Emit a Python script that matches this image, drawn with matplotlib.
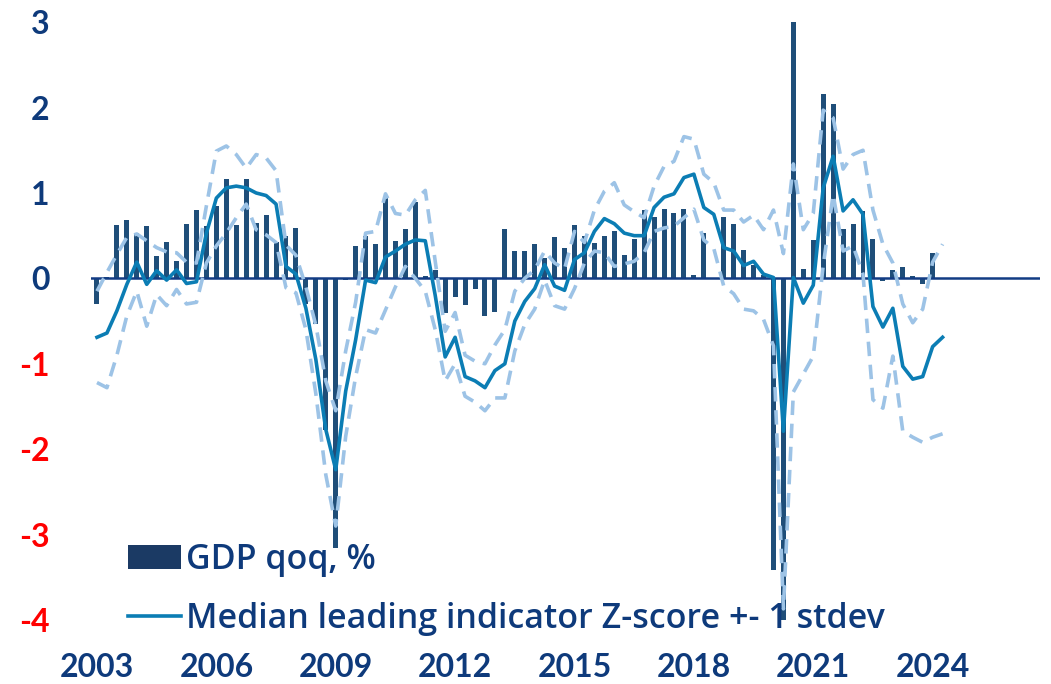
import numpy as np
import matplotlib
matplotlib.use("Agg")
import matplotlib.pyplot as plt
from matplotlib.patches import Patch
from matplotlib.lines import Line2D

# quarterly data, first quarter = 2003Q1
gdp = [-0.30, 0.02, 0.62, 0.68, 0.53, 0.61, 0.26, 0.42, 0.20, 0.64,
       0.80, 0.61, 0.85, 1.16, 0.62, 1.16, 0.65, 0.74, 0.42, 0.50,
       0.59, -0.30, -0.53, -1.77, -3.16, -0.02, 0.38, 0.50, 0.40, 0.94,
       0.44, 0.58, 0.89, 0.03, 0.10, -0.41, -0.22, -0.31, -0.12, -0.44,
       -0.39, 0.58, 0.32, 0.32, 0.40, 0.24, 0.48, 0.35, 0.63, 0.50,
       0.41, 0.50, 0.55, 0.27, 0.46, 0.80, 0.72, 0.81, 0.76, 0.81,
       0.04, 0.53, 0.01, 0.72, 0.64, 0.33, 0.16, 0.04, -3.42, -4.00,
       3.00, 0.11, 0.45, 2.16, 2.04, 0.58, 0.64, 0.79, 0.46, -0.03,
       0.10, 0.13, 0.03, -0.07, 0.30]

median = [-0.69, -0.64, -0.38, -0.07, 0.19, -0.07, 0.09, -0.02, 0.10, -0.06,
          -0.04, 0.53, 0.94, 1.06, 1.08, 1.06, 1.00, 0.97, 0.87, 0.14,
          0.05, -0.35, -0.95, -1.77, -2.24, -1.32, -0.72, -0.02, -0.05, 0.25,
          0.32, 0.40, 0.45, 0.44, -0.20, -0.92, -0.69, -1.15, -1.20, -1.28,
          -1.08, -1.00, -0.50, -0.27, -0.12, 0.16, -0.09, -0.14, 0.22, 0.30,
          0.55, 0.70, 0.64, 0.53, 0.50, 0.50, 0.83, 0.95, 0.99, 1.18,
          1.22, 0.83, 0.75, 0.36, 0.32, 0.15, 0.20, 0.05, 0.01, -1.79,
          0.01, -0.29, -0.08, 1.06, 1.43, 0.79, 0.92, 0.75, -0.33, -0.57,
          -0.35, -1.03, -1.18, -1.15, -0.80, -0.69]

upper = [-0.15, 0.07, 0.28, 0.48, 0.52, 0.44, 0.36, 0.31, 0.30, 0.19,
         0.18, 0.85, 1.49, 1.55, 1.45, 1.29, 1.45, 1.41, 1.26, 0.39,
         0.27, -0.10, -0.55, -1.20, -1.55, -0.85, -0.28, 0.53, 0.55, 0.99,
         0.76, 0.74, 0.92, 1.03, 0.20, -0.62, -0.40, -0.90, -0.97, -1.00,
         -0.78, -0.60, -0.15, 0.00, 0.10, 0.32, 0.18, 0.11, 0.55, 0.42,
         0.80, 1.02, 1.12, 0.86, 0.78, 0.71, 1.08, 1.31, 1.37, 1.66,
         1.63, 1.22, 1.12, 0.80, 0.80, 0.66, 0.74, 0.57, 0.80, 0.29,
         1.34, 0.57, 0.76, 1.97, 1.88, 1.28, 1.45, 1.50, 0.80, 0.40,
         0.18, -0.30, -0.52, -0.36, 0.19, 0.40]

lower = [-1.22, -1.28, -0.90, -0.44, -0.15, -0.56, -0.19, -0.32, -0.13, -0.30,
         -0.28, 0.18, 0.38, 0.53, 0.71, 0.87, 0.57, 0.51, 0.42, -0.11,
         -0.17, -0.60, -1.35, -2.30, -2.90, -1.85, -1.15, -0.60, -0.64, -0.37,
         -0.10, 0.14, 0.00, -0.15, -0.60, -1.20, -1.00, -1.38, -1.45, -1.55,
         -1.40, -1.40, -0.85, -0.54, -0.36, -0.02, -0.32, -0.36, -0.12, 0.18,
         0.32, 0.30, 0.14, 0.17, 0.20, 0.30, 0.55, 0.59, 0.61, 0.71,
         0.81, 0.45, 0.35, -0.09, -0.18, -0.36, -0.38, -0.48, -0.79, -3.87,
         -1.33, -1.12, -0.91, 0.15, 0.98, 0.32, 0.38, 0.05, -1.42, -1.52,
         -0.91, -1.79, -1.86, -1.92, -1.86, -1.82]

years = ["2003", "2006", "2009", "2012", "2015", "2018", "2021", "2024"]
yticks = [-4, -3, -2, -1, 0, 1, 2, 3]

navy = "#0e3a7b"
bar_col = "#1f4e79"
med_col = "#0b7db4"
band_col = "#9dc3e6"

plt.rcParams['font.family'] = ['Lato', 'DejaVu Sans']

fig = plt.figure(figsize=(10.51, 6.84), dpi=100)
ax = fig.add_axes([0.0866, 0.0936, 0.903, 0.874])

xb = np.arange(len(gdp))
xl = np.arange(len(median))

ax.bar(xb, gdp, width=0.5, color=bar_col, zorder=2)
ax.axhline(0, color="#123c84", lw=1.8, zorder=3)
ax.plot(xl, upper, color=band_col, lw=2.6, ls=(0, (4, 2.4)), zorder=4)
ax.plot(xl, lower, color=band_col, lw=2.6, ls=(0, (4, 2.4)), zorder=4)
ax.plot(xl, median, color=med_col, lw=2.6, zorder=5)

ax.set_xlim(-0.6, 94.8)
ax.set_ylim(-4, 3)

ax.set_xticks(np.arange(0, 12 * len(years), 12))
ax.set_xticklabels(years)
ax.set_yticks(yticks)
ax.set_yticklabels([str(v) for v in yticks])
ax.tick_params(axis="x", length=0, pad=24, labelsize=23, labelcolor=navy)
ax.tick_params(axis="y", length=0, pad=30, labelsize=23)
for lab, v in zip(ax.get_yticklabels(), yticks):
    lab.set_color("#ff0000" if v < 0 else navy)
    lab.set_fontweight("bold")
for lab in ax.get_xticklabels():
    lab.set_fontweight("bold")

for s in ax.spines.values():
    s.set_visible(False)

handles = [Patch(facecolor="#1b3a64", edgecolor="none"),
           Line2D([0], [0], color=med_col, lw=2.6)]
labels = ["GDP qoq, %", "Median leading indicator Z-score +- 1 stdev"]
leg = fig.legend(handles, labels, loc="upper left",
                 bbox_to_anchor=(128 / 1051, 1 - 543 / 684),
                 frameon=False, borderpad=0, borderaxespad=0,
                 handlelength=1.55, handletextpad=0.15, labelspacing=0.72,
                 prop={"family": ["Open Sans", "DejaVu Sans"],
                       "size": 24.5, "weight": 600})
for t in leg.get_texts():
    t.set_color(navy)

fig.savefig("out.png", dpi=100)
